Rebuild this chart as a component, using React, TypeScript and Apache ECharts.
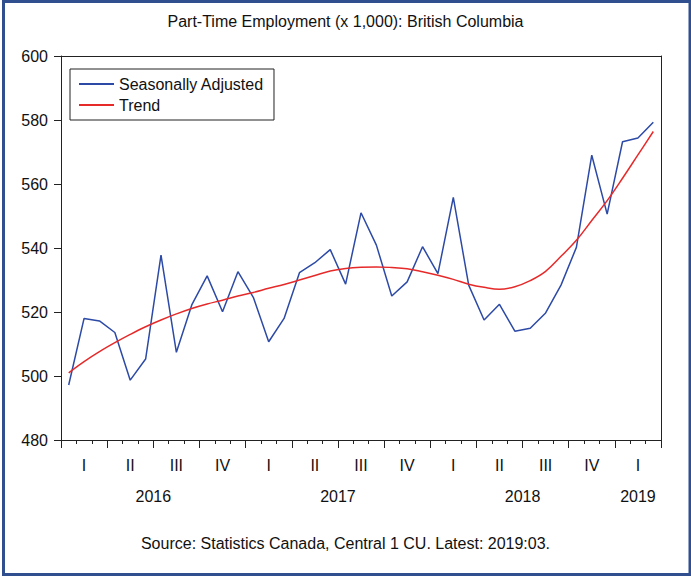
import React, { useEffect, useRef } from "react";
import * as echarts from "echarts";

const months = [
  "2016-01", "2016-02", "2016-03", "2016-04", "2016-05", "2016-06",
  "2016-07", "2016-08", "2016-09", "2016-10", "2016-11", "2016-12",
  "2017-01", "2017-02", "2017-03", "2017-04", "2017-05", "2017-06",
  "2017-07", "2017-08", "2017-09", "2017-10", "2017-11", "2017-12",
  "2018-01", "2018-02", "2018-03", "2018-04", "2018-05", "2018-06",
  "2018-07", "2018-08", "2018-09", "2018-10", "2018-11", "2018-12",
  "2019-01", "2019-02", "2019-03",
];

const seasonallyAdjusted = [
  497.2, 518.0, 517.2, 513.6, 498.7, 505.3, 537.8, 507.4, 522.2, 531.3, 520.1, 532.6,
  524.6, 510.7, 518.0, 532.3, 535.4, 539.5, 528.7, 551.0, 540.9, 525.0, 529.4, 540.4,
  532.0, 555.8, 528.4, 517.5, 522.4, 514.0, 514.9, 519.7, 528.4, 540.2, 569.0, 550.6,
  573.2, 574.4, 579.3,
];

const trend = [
  501.0, 504.5, 507.6, 510.4, 513.0, 515.4, 517.5, 519.4, 521.1, 522.5, 523.7, 525.0,
  526.1, 527.4, 528.6, 530.0, 531.4, 532.8, 533.6, 534.0, 534.1, 533.9, 533.5, 532.6,
  531.5, 530.2, 528.7, 527.7, 527.1, 527.9, 529.8, 532.7, 537.4, 542.4, 548.6, 554.8,
  561.8, 569.1, 576.4,
];

const quarterLabels = ["I", "II", "III", "IV"];
// year label positions in month units from the axis start (centre of each year's span)
const yearPositions = [6, 18, 30, 37.5];
const yearLabels = ["2016", "2017", "2018", "2019"];

const titleText = "Part-Time Employment (x 1,000): British Columbia";
const sourceText = "Source: Statistics Canada, Central 1 CU. Latest: 2019:03.";

const FONT = "'Liberation Sans', Arial, sans-serif";

export default function App() {
  const ref = useRef<HTMLDivElement>(null);

  useEffect(() => {
    if (!ref.current) return;
    const chart = echarts.init(ref.current, null, { renderer: "svg" });
    const axisColor = "#222";
    const grid = { left: 61, top: 56, width: 600, height: 384 };

    chart.setOption({
      animation: false,
      backgroundColor: "#ffffff",
      textStyle: { fontFamily: FONT },
      title: {
        text: titleText,
        left: "center",
        top: 8,
        textStyle: { fontFamily: FONT, fontSize: 16, fontWeight: "normal", color: "#111" },
      },
      grid,
      legend: {
        orient: "vertical",
        left: 70,
        top: 69,
        padding: [7, 10, 7, 8],
        itemWidth: 35,
        itemHeight: 16,
        itemGap: 5,
        borderColor: "#222",
        borderWidth: 1,
        backgroundColor: "#fff",
        itemStyle: { color: "rgba(0,0,0,0)", borderColor: "rgba(0,0,0,0)", borderWidth: 0 },
        textStyle: { fontFamily: FONT, fontSize: 16, color: "#111" },
        data: ["Seasonally Adjusted", "Trend"],
      },
      xAxis: [
        {
          type: "category",
          data: months,
          position: "bottom",
          boundaryGap: true,
          axisLine: { show: true, onZero: false, lineStyle: { color: axisColor, width: 1 } },
          axisTick: { show: true, interval: 0, length: 4, lineStyle: { color: axisColor } },
          axisLabel: {
            interval: (i: number) => i % 3 === 1,
            formatter: (_v: string, i: number) => quarterLabels[Math.floor(i / 3) % 4],
            margin: 17,
            fontFamily: FONT,
            fontSize: 16,
            color: "#111",
          },
          splitLine: { show: false },
        },
        {
          type: "category",
          data: months,
          position: "bottom",
          boundaryGap: true,
          axisLine: { show: false, onZero: false },
          axisTick: { show: true, interval: (i: number) => i % 3 === 0, length: 8, lineStyle: { color: axisColor } },
          axisLabel: { show: false },
          splitLine: { show: false },
        },
        {
          type: "value",
          position: "bottom",
          min: 0,
          max: 39,
          interval: 1.5,
          axisLine: { show: false, onZero: false },
          axisTick: { show: false },
          splitLine: { show: false },
          axisLabel: {
            margin: 48,
            fontFamily: FONT,
            fontSize: 16,
            color: "#111",
            showMinLabel: true,
            showMaxLabel: true,
            formatter: (v: number) => {
              const k = yearPositions.findIndex((p) => Math.abs(p - v) < 1e-6);
              return k >= 0 ? yearLabels[k] : "";
            },
          },
        },
        {
          type: "category",
          data: months,
          position: "top",
          boundaryGap: true,
          axisLine: { show: true, onZero: false, lineStyle: { color: axisColor, width: 1 } },
          axisTick: { show: false },
          axisLabel: { show: false },
          splitLine: { show: false },
        },
      ],
      yAxis: [
        {
          type: "value",
          min: 480,
          max: 600,
          interval: 20,
          position: "left",
          axisLine: { show: true, onZero: false, lineStyle: { color: axisColor, width: 1 } },
          axisTick: { show: true, length: 7, lineStyle: { color: axisColor } },
          axisLabel: { margin: 13, fontFamily: FONT, fontSize: 16, color: "#111" },
          splitLine: { show: false },
        },
        {
          type: "value",
          min: 480,
          max: 600,
          interval: 20,
          position: "right",
          axisLine: { show: true, onZero: false, lineStyle: { color: axisColor, width: 1 } },
          axisTick: { show: false },
          axisLabel: { show: false },
          splitLine: { show: false },
        },
      ],
      series: [
        {
          name: "Seasonally Adjusted",
          type: "line",
          xAxisIndex: 0,
          yAxisIndex: 0,
          data: seasonallyAdjusted,
          symbol: "none",
          lineStyle: { color: "#2c4aa6", width: 1.5 },
          itemStyle: { color: "#2c4aa6" },
          z: 3,
        },
        {
          name: "Trend",
          type: "line",
          xAxisIndex: 0,
          yAxisIndex: 0,
          data: trend,
          symbol: "none",
          smooth: 0.4,
          lineStyle: { color: "#e62a2a", width: 1.5 },
          itemStyle: { color: "#e62a2a" },
          z: 4,
        },
      ],
      graphic: [
        {
          type: "text",
          left: "center",
          top: 535,
          style: { text: sourceText, font: `16px ${FONT}`, fill: "#111" },
        },
        {
          type: "rect",
          shape: { x: 3.5, y: 1.5, width: 686.5, height: 573 },
          style: { fill: "none", stroke: "#2f4f8f", lineWidth: 3 },
          silent: true,
        },
      ],
    });

    return () => chart.dispose();
  }, []);

  return (
    <div
      ref={ref}
      style={{ position: "fixed", left: 0, top: 0, width: 691, height: 579, background: "#fff" }}
    />
  );
}
